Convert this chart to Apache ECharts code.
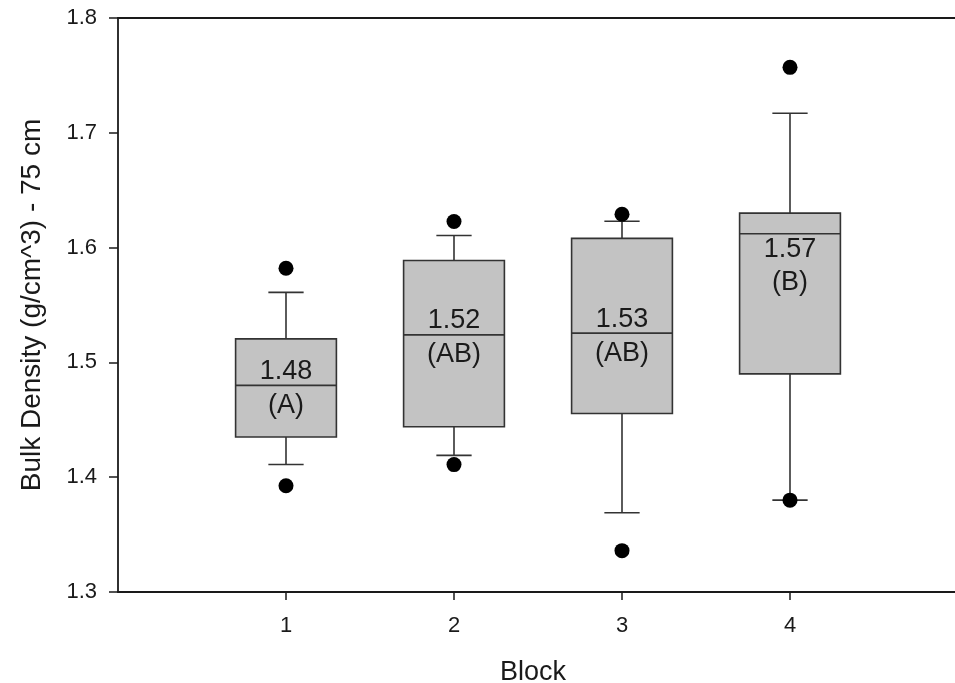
<!DOCTYPE html>
<html>
<head>
<meta charset="utf-8">
<script src="https://cdn.jsdelivr.net/npm/echarts@6/dist/echarts.min.js"></script>
<style>
  html, body { margin: 0; padding: 0; background: #ffffff; }
  #chart { width: 955px; height: 683px; }
</style>
</head>
<body>
<div id="chart"></div>
<script>
// Bulk density at 75 cm, one box per block
const blocks = [1, 2, 3, 4];
const whiskerLow  = [1.411, 1.419, 1.369, 1.380];
const quartile1   = [1.435, 1.444, 1.4555, 1.490];
const medians     = [1.480, 1.524, 1.5255, 1.612];
const quartile3   = [1.5205, 1.5887, 1.608, 1.630];
const whiskerHigh = [1.561, 1.6105, 1.623, 1.717];
const outlierBlock = [1, 1, 2, 2, 3, 3, 4, 4];
const outlierValue = [1.582, 1.3925, 1.6227, 1.411, 1.629, 1.336, 1.757, 1.380];
const meanLabels   = ['1.48', '1.52', '1.53', '1.57'];
const groupLetters = ['(A)', '(AB)', '(AB)', '(B)'];
const yTicks = [1.3, 1.4, 1.5, 1.6, 1.7, 1.8];

// pixel offsets of the two label lines from the median line
const labelOffsets = [[-14, 20], [-14, 20], [-14, 20], [16, 49]];

const FONT = 'Liberation Sans, Arial, Helvetica, sans-serif';
const INK = '#1a1a1a';
const EDGE = '#333333';

const boxData = blocks.map((b, i) => [b, whiskerLow[i], quartile1[i], medians[i], quartile3[i], whiskerHigh[i], i]);
const outlierData = outlierBlock.map((b, i) => [b, outlierValue[i]]);

function renderBox(params, api) {
  const x = api.value(0);
  const lo = api.coord([x, api.value(1)]);
  const q1 = api.coord([x, api.value(2)]);
  const md = api.coord([x, api.value(3)]);
  const q3 = api.coord([x, api.value(4)]);
  const hi = api.coord([x, api.value(5)]);
  const idx = api.value(6);
  const cx = lo[0];
  const half = api.size([0.6, 0])[0] / 2;
  const cap = api.size([0.21, 0])[0] / 2;
  const line = { stroke: EDGE, lineWidth: 1.6 };
  const off = labelOffsets[idx];
  return {
    type: 'group',
    children: [
      { type: 'line', shape: { x1: cx, y1: lo[1], x2: cx, y2: q1[1] }, style: line },
      { type: 'line', shape: { x1: cx, y1: q3[1], x2: cx, y2: hi[1] }, style: line },
      { type: 'line', shape: { x1: cx - cap, y1: lo[1], x2: cx + cap, y2: lo[1] }, style: line },
      { type: 'line', shape: { x1: cx - cap, y1: hi[1], x2: cx + cap, y2: hi[1] }, style: line },
      { type: 'rect', shape: { x: cx - half, y: q3[1], width: half * 2, height: q1[1] - q3[1] },
        style: { fill: '#c3c3c3', stroke: EDGE, lineWidth: 1.6 } },
      { type: 'line', shape: { x1: cx - half, y1: md[1], x2: cx + half, y2: md[1] }, style: line },
      { type: 'text', style: { x: cx, y: md[1] + off[0], text: meanLabels[idx], fill: INK,
        font: '27px ' + FONT, align: 'center', verticalAlign: 'middle' } },
      { type: 'text', style: { x: cx, y: md[1] + off[1], text: groupLetters[idx], fill: INK,
        font: '27px ' + FONT, align: 'center', verticalAlign: 'middle' } }
    ]
  };
}

const chart = echarts.init(document.getElementById('chart'), null, { renderer: 'canvas' });
chart.setOption({
  animation: false,
  backgroundColor: '#ffffff',
  grid: { left: 118, top: 18, width: 840, height: 574, containLabel: false, outerBoundsMode: 'none' },
  xAxis: [{
    type: 'value', min: 0, max: 5, interval: 1,
    name: 'Block', nameLocation: 'middle', nameGap: 67,
    nameTextStyle: { fontFamily: FONT, fontSize: 27, color: INK, padding: [0, 10, 0, 0] },
    axisLine: { show: true, lineStyle: { color: INK, width: 1.8 } },
    axisTick: { show: true, inside: false, length: 8, customValues: blocks, lineStyle: { color: INK, width: 1.5 } },
    axisLabel: { show: true, customValues: blocks, margin: 23, fontFamily: FONT, fontSize: 22, color: INK },
    splitLine: { show: false }
  }, {
    type: 'value', min: 0, max: 5, position: 'top',
    axisLine: { show: true, lineStyle: { color: INK, width: 1.8 } },
    axisTick: { show: false }, axisLabel: { show: false }, splitLine: { show: false }
  }],
  yAxis: {
    type: 'value', min: 1.3, max: 1.8, interval: 0.1,
    name: 'Bulk Density (g/cm^3) - 75 cm', nameLocation: 'middle', nameGap: 72, nameRotate: 90,
    nameTextStyle: { fontFamily: FONT, fontSize: 28, color: INK },
    axisLine: { show: true, lineStyle: { color: INK, width: 1.8 } },
    axisTick: { show: true, inside: false, length: 9, customValues: yTicks, lineStyle: { color: INK, width: 1.5 } },
    axisLabel: { customValues: yTicks, margin: 21, fontFamily: FONT, fontSize: 22, color: INK,
      formatter: v => v.toFixed(1) },
    splitLine: { show: false }
  },
  series: [{
    type: 'custom',
    renderItem: renderBox,
    data: boxData,
    encode: { x: 0, y: [1, 5] },
    clip: false
  }, {
    type: 'scatter',
    data: outlierData,
    symbol: 'circle',
    symbolSize: 15,
    itemStyle: { color: '#000000', opacity: 1 },
    z: 5
  }]
});
</script>
</body>
</html>
